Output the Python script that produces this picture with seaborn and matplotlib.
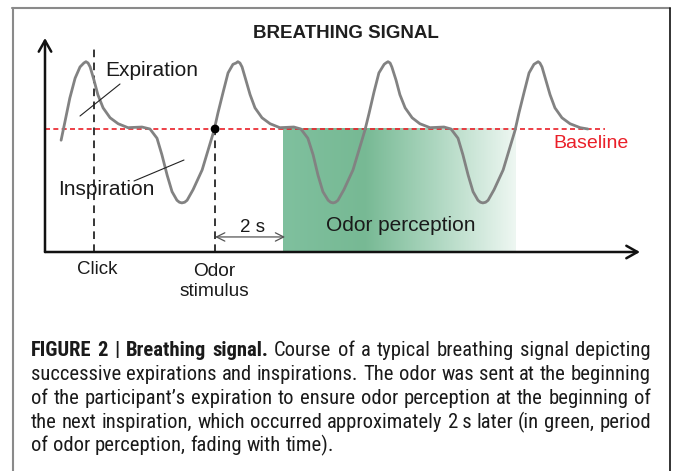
import numpy as np
import pandas as pd
import matplotlib.pyplot as plt
import seaborn as sns
from matplotlib import font_manager
from matplotlib.colors import LinearSegmentedColormap
from matplotlib.lines import Line2D

# breathing trace: time in s, signal in a.u. (baseline = 0)
lead_t = [0.46, 0.57, 0.71, 0.86, 1.00, 1.11, 1.17]
lead_s = [-0.17, 0.11, 0.47, 0.77, 0.94, 1.00, 1.02]

cycle1_t = [1.23, 1.29, 1.40, 1.51, 1.66, 1.86, 2.09, 2.37, 2.77, 3.00,
            3.20, 3.34, 3.49, 3.63, 3.77, 3.84, 3.91, 3.99, 4.06, 4.23,
            4.49, 4.66, 4.83, 4.94, 5.09, 5.23, 5.37, 5.46, 5.51]
cycle1_s = [1.00, 0.94, 0.74, 0.52, 0.32, 0.17, 0.08, 0.02, 0.03, 0.00,
            -0.14, -0.39, -0.70, -0.95, -1.08, -1.11, -1.12, -1.11, -1.08, -0.92,
            -0.62, -0.32, -0.02, 0.24, 0.56, 0.85, 0.98, 1.00, 1.02]

cycle2_t = [5.57, 5.63, 5.74, 5.86, 6.00, 6.20, 6.43, 6.71, 7.11, 7.31,
            7.51, 7.66, 7.80, 7.94, 8.09, 8.16, 8.23, 8.30, 8.37, 8.54,
            8.80, 8.97, 9.14, 9.26, 9.40, 9.54, 9.69, 9.74, 9.80]
cycle2_s = [1.00, 0.94, 0.74, 0.52, 0.32, 0.17, 0.08, 0.02, 0.03, 0.00,
            -0.14, -0.39, -0.70, -0.95, -1.08, -1.11, -1.12, -1.11, -1.08, -0.92,
            -0.62, -0.32, -0.02, 0.24, 0.56, 0.85, 0.98, 1.00, 1.02]

cycle3_t = [9.86, 9.91, 10.03, 10.14, 10.29, 10.49, 10.71, 11.00, 11.40, 11.60,
            11.80, 11.94, 12.09, 12.23, 12.37, 12.44, 12.51, 12.59, 12.66, 12.83,
            13.09, 13.26, 13.43, 13.54, 13.69, 13.83, 13.97, 14.03, 14.09]
cycle3_s = [1.00, 0.94, 0.74, 0.52, 0.32, 0.17, 0.08, 0.02, 0.03, 0.00,
            -0.14, -0.39, -0.70, -0.95, -1.08, -1.11, -1.12, -1.11, -1.08, -0.92,
            -0.62, -0.32, -0.02, 0.24, 0.56, 0.85, 0.98, 1.00, 1.02]

tail_t = [14.14, 14.20, 14.31, 14.43, 14.57, 14.77, 15.00, 15.29, 15.51]
tail_s = [1.00, 0.94, 0.74, 0.52, 0.32, 0.17, 0.08, 0.02, 0.00]

baseline_t = [0.0, 16.0]
baseline_s = [0.0, 0.0]

click_t = 1.40
stimulus_t = 4.86
delay_s = 2
perception_start = 6.80
perception_end = 13.43

caption_lines = [
    [("FIGURE", "bold"), ("2", "bold"), ("|", "bold"), ("Breathing", "bold"), ("signal.", "bold"),
     ("Course of a typical breathing signal depicting", "normal")],
    [("successive expirations and inspirations. The odor was sent at the beginning", "normal")],
    [("of the participant\u2019s expiration to ensure odor perception at the beginning of", "normal")],
    [("the next inspiration, which occurred approximately 2\u2009s later (in green, period", "normal")],
    [("of odor perception, fading with time).", "normal")],
]

W, H = 673, 471
ymin, ymax = -1.864, 1.379

sns.set_theme(style="white")
plt.rcParams['font.family'] = ['Liberation Sans', 'DejaVu Sans']

fig = plt.figure(figsize=(W / 100, H / 100), dpi=100)
ax = fig.add_axes([45 / W, 1 - 252 / H, (640 - 45) / W, (252 - 38) / H])

breath = pd.DataFrame({
    'time': lead_t + cycle1_t + cycle2_t + cycle3_t + tail_t,
    'signal': lead_s + cycle1_s + cycle2_s + cycle3_s + tail_s,
})

# odor perception, fading with time
fade = LinearSegmentedColormap.from_list(
    'fade', [(0, '#7fc09e'), (0.35, '#77b994'), (0.65, '#acd6bf'), (1, '#eef7f2')])
ax.imshow(np.linspace(0, 1, 256)[None, :], cmap=fade, aspect='auto', interpolation='bicubic',
          extent=(perception_start, perception_end, ymin, 0), zorder=1)

sns.lineplot(x=baseline_t, y=baseline_s, color='#ea1f28', linewidth=1.2,
             linestyle=(0, (3, 2)), ax=ax, zorder=2)
sns.lineplot(data=breath, x='time', y='signal', sort=False, estimator=None,
             color='#828282', linewidth=2.0, ax=ax, zorder=3)
sns.scatterplot(x=[stimulus_t], y=[0], color='black', s=40, edgecolor='none', ax=ax, zorder=4)

ax.vlines(click_t, ymin, 1.27, color='black', linewidth=1.1, linestyles=(0, (5, 3.5)), zorder=2)
ax.vlines(stimulus_t, ymin, 0, color='black', linewidth=1.1, linestyles=(0, (5, 3.5)), zorder=2)

# axes drawn as arrows
head = '->,head_length=0.8,head_width=0.45'
ax.annotate('', xy=(1, 0), xytext=(0, 0), xycoords='axes fraction',
            arrowprops=dict(arrowstyle=head, lw=1.8, color='#111111', mutation_scale=10,
                            shrinkA=0, shrinkB=0))
ax.annotate('', xy=(0, 1), xytext=(0, 0), xycoords='axes fraction',
            arrowprops=dict(arrowstyle=head, lw=1.8, color='#111111', mutation_scale=10,
                            shrinkA=0, shrinkB=0))

# 2 s delay
ax.annotate('', xy=(stimulus_t + delay_s, -1.636), xytext=(stimulus_t, -1.636),
            arrowprops=dict(arrowstyle='<->,head_length=0.5,head_width=0.25', lw=0.9,
                            color='#555555', mutation_scale=12, shrinkA=0, shrinkB=0))
ax.text(5.94, -1.50, '2 s', fontsize=13.5, ha='center', va='center', color='#1a1a1a')

ax.text(10.17, -1.455, 'Odor perception', fontsize=15, ha='center', va='center', color='#1a1a1a')
ax.text(15.6, -0.227, 'Baseline', fontsize=14, ha='center', va='center', color='#ea1f28')
ax.text(1.714, 0.894, 'Expiration', fontsize=15, ha='left', va='center', color='#1a1a1a')
ax.text(0.371, -0.924, 'Inspiration', fontsize=15, ha='left', va='center', color='#1a1a1a')
ax.plot([2.143, 1.0], [0.682, 0.197], color='#222222', linewidth=0.8, zorder=5)
ax.plot([3.971, 2.543], [-0.470, -0.788], color='#222222', linewidth=0.8, zorder=5)

ax.text(1.486, -2.136, 'Click', fontsize=13.5, ha='center', va='center', color='#1a1a1a')
ax.text(4.83, -2.311, 'Odor\nstimulus', fontsize=13.8, ha='center', va='center',
        linespacing=1.2, color='#1a1a1a')

ax.set_xlim(0, 17.0)
ax.set_ylim(ymin, ymax)
ax.set_axis_off()

fig.text(346 / W, 1 - 33 / H, 'BREATHING SIGNAL', fontsize=13.5, fontweight='semibold',
         ha='center', va='center', color='#1f1f1f')

# frame
fig.add_artist(Line2D([12 / W, 670 / W], [1 - 8 / H, 1 - 8 / H], transform=fig.transFigure,
                      color='#8a8a8a', linewidth=1.5))
fig.add_artist(Line2D([12.5 / W, 12.5 / W], [0, 1 - 8 / H], transform=fig.transFigure,
                      color='#8a8a8a', linewidth=1.5))
fig.add_artist(Line2D([669.5 / W, 669.5 / W], [0, 1 - 8 / H], transform=fig.transFigure,
                      color='#111111', linewidth=1.2))


# caption, justified word by word
def have_font(name):
    try:
        font_manager.findfont(font_manager.FontProperties(family=name), fallback_to_default=False)
        return True
    except ValueError:
        return False


cap_font = ['Liberation Sans', 'DejaVu Sans']
for cand in ('Roboto Condensed', 'PT Sans Narrow'):
    if have_font(cand):
        cap_font = [cand, 'DejaVu Sans']
        break
renderer = fig.canvas.get_renderer()


def measure(s, weight, size):
    t = fig.text(0, 0, s, fontsize=size, fontweight=weight, family=cap_font)
    w = t.get_window_extent(renderer).width
    t.remove()
    return w


def split_words(line):
    return [(w, wt) for chunk, wt in line for w in chunk.split(' ')]


cap_left, cap_right = 31, 651
sp10 = measure('a a', 'normal', 10) - measure('aa', 'normal', 10)
natural = []
for line in caption_lines[:-1]:
    words = split_words(line)
    natural.append(sum(measure(w, wt, 10) for w, wt in words) + sp10 * (len(words) - 1))
cap_size = min(16.3, 10 * 614 / max(natural))
space = measure('a a', 'normal', cap_size) - measure('aa', 'normal', cap_size)

line_y = [351, 374.5, 398, 422, 445.5]
for i, line in enumerate(caption_lines):
    words = split_words(line)
    widths = [measure(w, wt, cap_size) for w, wt in words]
    if i < len(caption_lines) - 1:
        gap = (cap_right - cap_left - sum(widths)) / (len(words) - 1)
    else:
        gap = space
    x = cap_left
    for (w, wt), wd in zip(words, widths):
        fig.text(x / W, 1 - line_y[i] / H, w, fontsize=cap_size, fontweight=wt, family=cap_font,
                 ha='left', va='center', color='#1a1a1a')
        x += wd + gap

fig.savefig('out.png', dpi=100)
